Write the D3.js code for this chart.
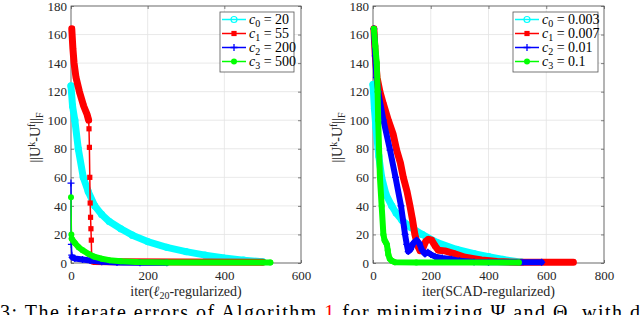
<!DOCTYPE html>
<html>
<head>
<meta charset="utf-8">
<script src="https://cdn.jsdelivr.net/npm/d3@7"></script>
<style>
  body { margin: 0; background: #fff; }
  svg { display: block; }
</style>
</head>
<body>
<div id="chart"></div>
<script>
// [iteration, ||U^k - U^f||_F]
// l20-regularized panel
var l20_c0 = [[0,124],[4,110],[10,100],[19,80],[32,60],[45,50],[62,40],[80,34],[100,29],[130,24],[160,19.5],[200,15],[250,11],[300,8],[350,5.5],[400,3.5],[450,2],[500,0.8]];
var l20_c1 = [[2,164],[5,150],[8,140],[13,130],[22,120],[33,110],[42,104],[46,100],[47,94],[48,81],[49,60],[50,42],[51,32],[52,24],[53,16],[54,3],[55,1.5],[60,1],[100,0.8],[500,0.6]];
var l20_c2 = [[0,56],[1,13],[2,5.5],[3,4],[10,3.2],[30,2.5],[50,1.7],[80,0.9],[120,0.4],[180,0.2],[250,0.1]];
var l20_c3 = [[0,46],[1,20],[2,17],[10,14],[20,11],[30,9],[45,6.5],[60,4.5],[80,3],[100,2],[130,1.2],[170,0.7],[250,0.4],[520,0.3]];

// SCAD-regularized panel
var scad_c0 = [[0,125],[5,108],[10,95],[20,75],[30,60],[45,48],[65,40],[80,35],[100,30],[130,25],[170,20],[220,14.5],[290,9.5],[350,6.5],[400,4.5],[450,2.5],[515,0.6]];
var scad_c1 = [[3,164],[8,145],[14,130],[24,120],[35,112],[53,100],[70,90],[82,79],[95,70],[105,60],[118,50],[128,40],[137,30],[145,20],[155,12],[163,8.6],[172,10],[182,15],[192,16.6],[203,16],[215,12],[226,9],[249,8.5],[278,6.8],[319,4],[376,2.1],[430,1],[500,0.5],[694,0.5]];
var scad_c2 = [[3,164],[8,145],[12,130],[18,120],[36,100],[59,79],[78,60],[97,40],[111,20],[117,13],[122,8],[130,9.5],[140,14],[151,16],[160,14],[170,9],[180,6.3],[190,7.5],[200,6],[215,4.4],[240,3.5],[272,2.6],[300,1.5],[350,0.7],[400,0.5],[584,0.5]];
var scad_c3 = [[3,164],[8,152],[13,140],[16,120],[18,100],[21,80],[24,60],[30,40],[36,20],[40,16],[44,14.5],[48,13],[51,9],[53,6],[58,3],[65,1.5],[76,0.5],[150,0.3],[505,0.3]];

var yTicks = [0, 20, 40, 60, 80, 100, 120, 140, 160, 180];
var l20Ticks = [0, 200, 400, 600];
var scadTicks = [0, 200, 400, 600, 800];
var l20Labels = ['20', '55', '200', '500'];
var scadLabels = ['0.003', '0.007', '0.01', '0.1'];

var colors = ['#00ffff', '#ff0000', '#0000ff', '#00ff00'];
var markers = ['ring', 'square', 'plus', 'dot'];
var bandWidths = [7, 7, 6, 6];

var font = '"Liberation Serif", "Times New Roman", "DejaVu Serif", serif';

var svg = d3.select('#chart')
    .append('svg')
    .attr('width', 640)
    .attr('height', 315)
    .attr('font-family', font);

// add a text made of pieces: [string, dy, size, italic, color]
function richText(sel, parts) {
    parts.forEach(function (p) {
        var t = sel.append('tspan').text(p[0]);
        if (p[1]) t.attr('dy', p[1]);
        if (p[2]) t.attr('font-size', p[2]);
        if (p[3]) t.attr('font-style', 'italic');
        if (p[4]) t.attr('fill', p[4]);
    });
    return sel;
}

function drawMarker(g, kind, cx, cy, color) {
    if (kind === 'ring') {
        g.append('circle').attr('cx', cx).attr('cy', cy).attr('r', 3)
            .attr('fill', 'none').attr('stroke', color).attr('stroke-width', 1.2);
    } else if (kind === 'square') {
        g.append('rect').attr('x', cx - 2.6).attr('y', cy - 2.6)
            .attr('width', 5.2).attr('height', 5.2).attr('fill', color);
    } else if (kind === 'plus') {
        g.append('path').attr('d', 'M' + (cx - 3.5) + ',' + cy + 'H' + (cx + 3.5) +
            'M' + cx + ',' + (cy - 3.5) + 'V' + (cy + 3.5))
            .attr('stroke', color).attr('stroke-width', 1.3);
    } else {
        g.append('circle').attr('cx', cx).attr('cy', cy).attr('r', 3).attr('fill', color);
    }
}

function drawPanel(opts) {
    var x = d3.scaleLinear().domain(opts.xDomain).range([opts.left, opts.right]);
    var y = d3.scaleLinear().domain([0, 180]).range([opts.bottom, opts.top]);
    var g = svg.append('g');

    // grid
    g.append('g')
        .selectAll('line')
        .data(opts.xTicks)
        .enter().append('line')
        .attr('x1', function (d) { return x(d); })
        .attr('x2', function (d) { return x(d); })
        .attr('y1', opts.top).attr('y2', opts.bottom)
        .attr('stroke', '#e3e3e3').attr('stroke-width', 0.8);
    g.append('g')
        .selectAll('line')
        .data(yTicks)
        .enter().append('line')
        .attr('y1', function (d) { return y(d); })
        .attr('y2', function (d) { return y(d); })
        .attr('x1', opts.left).attr('x2', opts.right)
        .attr('stroke', '#e3e3e3').attr('stroke-width', 0.8);

    // axes (ticks pointing inward, mirrored on top and right)
    var ax = [
        g.append('g').attr('transform', 'translate(0,' + opts.bottom + ')')
            .call(d3.axisBottom(x).tickValues(opts.xTicks).tickSize(-3).tickPadding(8)),
        g.append('g').attr('transform', 'translate(' + opts.left + ',0)')
            .call(d3.axisLeft(y).tickValues(yTicks).tickSize(-3).tickPadding(4)),
        g.append('g').attr('transform', 'translate(0,' + opts.top + ')')
            .call(d3.axisTop(x).tickValues(opts.xTicks).tickSize(-3).tickFormat('')),
        g.append('g').attr('transform', 'translate(' + opts.right + ',0)')
            .call(d3.axisRight(y).tickValues(yTicks).tickSize(-3).tickFormat(''))
    ];
    ax.forEach(function (a) {
        a.attr('font-family', font).attr('font-size', 13);
        a.select('.domain').remove();
        a.selectAll('line').attr('stroke', '#4d4d4d').attr('stroke-width', 0.7);
        a.selectAll('text').attr('fill', '#262626');
    });

    g.append('rect')
        .attr('x', opts.left).attr('y', opts.top)
        .attr('width', opts.right - opts.left).attr('height', opts.bottom - opts.top)
        .attr('fill', 'none').attr('stroke', '#555').attr('stroke-width', 0.8);

    // series
    var line = d3.line()
        .x(function (d) { return x(d[0]); })
        .y(function (d) { return y(d[1]); });

    opts.series.forEach(function (pts, k) {
        var sg = g.append('g');
        // where consecutive points skip iterations the markers crowd into a band
        var runs = [], cur = null;
        for (var i = 1; i < pts.length; i++) {
            if (pts[i][0] - pts[i - 1][0] > 1) {
                if (!cur) { cur = [pts[i - 1]]; runs.push(cur); }
                cur.push(pts[i]);
            } else {
                cur = null;
            }
        }
        runs.forEach(function (r) {
            sg.append('path').datum(r).attr('d', line)
                .attr('fill', 'none').attr('stroke', colors[k])
                .attr('stroke-width', bandWidths[k])
                .attr('stroke-linejoin', 'round').attr('stroke-linecap', 'round');
        });
        sg.append('path').datum(pts).attr('d', line)
            .attr('fill', 'none').attr('stroke', colors[k]).attr('stroke-width', 1.5);
        pts.forEach(function (p) {
            drawMarker(sg, markers[k], x(p[0]), y(p[1]), colors[k]);
        });
    });

    // legend
    var lg = g.append('g');
    lg.append('rect')
        .attr('x', opts.legX).attr('y', 12)
        .attr('width', opts.legW).attr('height', 60)
        .attr('fill', '#fff').attr('stroke', '#555').attr('stroke-width', 0.8);
    opts.labels.forEach(function (lab, k) {
        var ly = 19.5 + k * 14;
        lg.append('line')
            .attr('x1', opts.legX + 2).attr('x2', opts.legX + 26)
            .attr('y1', ly).attr('y2', ly)
            .attr('stroke', colors[k]).attr('stroke-width', 1.5);
        drawMarker(lg, markers[k], opts.legX + 14, ly, colors[k]);
        var t = lg.append('text')
            .attr('x', opts.legX + 29).attr('y', ly + 4.5)
            .attr('font-size', 14).attr('fill', '#000');
        richText(t, [['c', 0, 0, true], [String(k), 3, 10], [' = ' + lab, -3, 14]]);
    });

    // axis titles
    var xt = svg.append('text')
        .attr('x', (opts.left + opts.right) / 2).attr('y', 296)
        .attr('text-anchor', 'middle')
        .attr('font-size', 14).attr('fill', '#262626');
    richText(xt, opts.xLabel);

    var yt = svg.append('text')
        .attr('transform', 'translate(' + opts.yLabelX + ',' + ((opts.top + opts.bottom) / 2 + 3) + ') rotate(-90)')
        .attr('text-anchor', 'middle')
        .attr('font-size', 14).attr('fill', '#262626');
    richText(yt, [['||U'], ['k', -5, 10], ['-U', 5, 14], ['f', -5, 10], ['||', 5, 14], ['F', 3, 10]]);
}

drawPanel({
    left: 71, right: 301, top: 6, bottom: 263,
    xDomain: [0, 600], xTicks: l20Ticks,
    series: [l20_c0, l20_c1, l20_c2, l20_c3],
    labels: l20Labels, legX: 220, legW: 74,
    xLabel: [['iter('], ['ℓ', 0, 0, true], ['20', 3, 10], ['-regularized)', -3, 14]],
    yLabelX: 40
});

drawPanel({
    left: 373, right: 604, top: 6, bottom: 263,
    xDomain: [0, 800], xTicks: scadTicks,
    series: [scad_c0, scad_c1, scad_c2, scad_c3],
    labels: scadLabels, legX: 513, legW: 85,
    xLabel: [['iter(SCAD-regularized)']],
    yLabelX: 342
});

// caption (cut off at the bottom of the picture, as in the source)
var cap = svg.append('text')
    .attr('x', 0).attr('y', 319)
    .attr('textLength', 640).attr('lengthAdjust', 'spacing')
    .attr('font-size', 20).attr('fill', '#000');
richText(cap, [['3: The iterate errors of Algorithm '], ['1', 0, 0, false, '#ff0000'],
    [' for minimizing Ψ and Θ, with d']]);
</script>
</body>
</html>
